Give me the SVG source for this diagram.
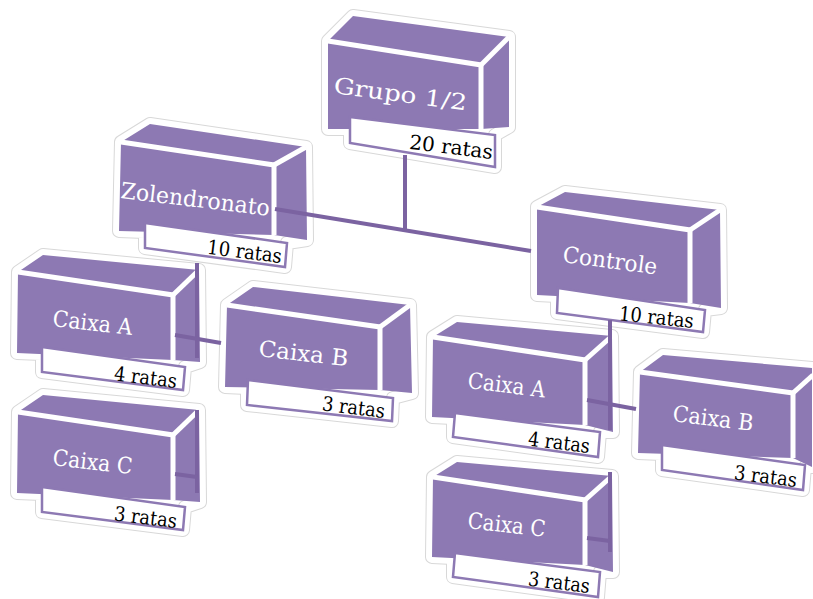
<svg xmlns="http://www.w3.org/2000/svg" width="813" height="599" viewBox="0 0 813 599">
  <style>
    .halo-o { fill: none; stroke: #d8d8d8; stroke-width: 14; stroke-linejoin: round; }
    .halo-i { fill: none; stroke: #ffffff; stroke-width: 12; stroke-linejoin: round; }
    .body { fill: #8d79b3; }
    .edge { fill: none; stroke: #ffffff; stroke-width: 5; stroke-linejoin: miter; }
    .tag { fill: #ffffff; stroke: #8d79b3; stroke-width: 2.5; stroke-linejoin: miter; }
    .title { font-family: "DejaVu Serif", "Liberation Serif", serif; fill: #ffffff; font-size: 22.5px; }
    .count { font-family: "DejaVu Serif", "Liberation Serif", serif; fill: #000000; font-size: 20px; text-anchor: end; }
    .link { fill: none; stroke: #7b63a1; stroke-width: 4; }
  </style>

  <rect width="813" height="599" fill="#ffffff"/>

  <!-- Boxes: halo, body (top + front + side), white edges, count tag, texts -->
  <g id="caixa-a-zol">
    <polygon class="halo-o" points="18,272 43,255 199,270 200,362 185,367 183,390 42,372 42,354 17,353"/>
    <polygon class="halo-i" points="18,272 43,255 199,270 200,362 185,367 183,390 42,372 42,354 17,353"/>
    <polygon class="body" points="18,272 43,255 199,270 200,362 173,360 17,353"/>
    <polyline class="edge" points="18,272 173,295 173,360"/>
    <line class="edge" x1="173" y1="295" x2="199" y2="270"/>
    <polygon class="tag" points="42,347 185,367 183,390 42,372"/>
    <text class="title" x="52" y="326" textLength="80" lengthAdjust="spacingAndGlyphs" transform="rotate(6.5 52 326)">Caixa A</text>
    <text class="count" x="176" y="388" textLength="63" lengthAdjust="spacingAndGlyphs" transform="rotate(7 176 388)">4 ratas</text>
  </g>

  <g id="caixa-b-zol">
    <polygon class="halo-o" points="227,305 253,287 410,305 412,393 393,398 392,421 247,405 247,388 225,387"/>
    <polygon class="halo-i" points="227,305 253,287 410,305 412,393 393,398 392,421 247,405 247,388 225,387"/>
    <polygon class="body" points="227,305 253,287 410,305 412,393 380,390 225,387"/>
    <polyline class="edge" points="227,305 380,327 380,390"/>
    <line class="edge" x1="380" y1="327" x2="410" y2="305"/>
    <polygon class="tag" points="248,380 393,398 392,421 247,405"/>
    <text class="title" x="258" y="356" font-size="24" textLength="90" lengthAdjust="spacingAndGlyphs" transform="rotate(6.5 258 356)">Caixa B</text>
    <text class="count" x="384" y="418" textLength="63" lengthAdjust="spacingAndGlyphs" transform="rotate(7 384 418)">3 ratas</text>
  </g>

  <g id="caixa-c-zol">
    <polygon class="halo-o" points="18,412 43,395 199,410 200,502 185,507 183,530 42,512 42,494 17,493"/>
    <polygon class="halo-i" points="18,412 43,395 199,410 200,502 185,507 183,530 42,512 42,494 17,493"/>
    <polygon class="body" points="18,412 43,395 199,410 200,502 173,500 17,493"/>
    <polyline class="edge" points="18,412 173,435 173,500"/>
    <line class="edge" x1="173" y1="435" x2="199" y2="410"/>
    <polygon class="tag" points="42,487 185,507 183,530 42,512"/>
    <text class="title" x="52" y="465" textLength="80" lengthAdjust="spacingAndGlyphs" transform="rotate(6.5 52 465)">Caixa C</text>
    <text class="count" x="176" y="528" textLength="63" lengthAdjust="spacingAndGlyphs" transform="rotate(7 176 528)">3 ratas</text>
  </g>

  <g id="caixa-a-ctl">
    <polygon class="halo-o" points="433,337 457,322 612,336 613,432 600,432 598,457 453,437 453,418 432,417"/>
    <polygon class="halo-i" points="433,337 457,322 612,336 613,432 600,432 598,457 453,437 453,418 432,417"/>
    <polygon class="body" points="433,337 457,322 612,336 613,432 585,425 432,417"/>
    <polyline class="edge" points="433,337 585,360 585,425"/>
    <line class="edge" x1="585" y1="360" x2="612" y2="336"/>
    <polygon class="tag" points="455,413 600,432 598,457 453,437"/>
    <text class="title" x="467" y="388" textLength="78" lengthAdjust="spacingAndGlyphs" transform="rotate(7 467 388)">Caixa A</text>
    <text class="count" x="589" y="453" textLength="62" lengthAdjust="spacingAndGlyphs" transform="rotate(7 589 453)">4 ratas</text>
  </g>

  <g id="caixa-b-ctl">
    <polygon class="halo-o" points="640,372 663,355 812,368 812,467 805,467 803,490 662,470 662,454 638,453"/>
    <polygon class="halo-i" points="640,372 663,355 812,368 812,467 805,467 803,490 662,470 662,454 638,453"/>
    <polygon class="body" points="640,372 663,355 812,368 812,467 793,458 638,453"/>
    <polyline class="edge" points="640,372 793,393 793,458"/>
    <line class="edge" x1="793" y1="393" x2="813" y2="375"/>
    <polygon class="tag" points="662,445 805,465 803,490 662,470"/>
    <text class="title" x="672" y="421" font-size="23.5" textLength="81" lengthAdjust="spacingAndGlyphs" transform="rotate(7 672 421)">Caixa B</text>
    <text class="count" x="796" y="487" textLength="63" lengthAdjust="spacingAndGlyphs" transform="rotate(7 796 487)">3 ratas</text>
  </g>

  <g id="caixa-c-ctl">
    <polygon class="halo-o" points="433,477 457,462 612,476 613,572 600,572 598,597 453,577 453,558 432,557"/>
    <polygon class="halo-i" points="433,477 457,462 612,476 613,572 600,572 598,597 453,577 453,558 432,557"/>
    <polygon class="body" points="433,477 457,462 612,476 613,572 585,565 432,557"/>
    <polyline class="edge" points="433,477 585,500 585,565"/>
    <line class="edge" x1="585" y1="500" x2="612" y2="476"/>
    <polygon class="tag" points="455,553 600,572 598,597 453,577"/>
    <text class="title" x="467" y="528" textLength="78" lengthAdjust="spacingAndGlyphs" transform="rotate(6.5 467 528)">Caixa C</text>
    <text class="count" x="589" y="593" textLength="62" lengthAdjust="spacingAndGlyphs" transform="rotate(7 589 593)">3 ratas</text>
  </g>

  <g id="zolendronato">
    <polygon class="halo-o" points="121,142 150,124 306,147 307,240 287,243 285,267 145,248 145,232 119,231"/>
    <polygon class="halo-i" points="121,142 150,124 306,147 307,240 287,243 285,267 145,248 145,232 119,231"/>
    <polygon class="body" points="121,142 150,124 306,147 307,240 274,235 119,231"/>
    <polyline class="edge" points="121,142 274,165 274,235"/>
    <line class="edge" x1="274" y1="165" x2="306" y2="147"/>
    <polygon class="tag" points="145,223 287,243 285,267 145,248"/>
    <text class="title" x="120" y="198" font-size="22.5" textLength="150" lengthAdjust="spacingAndGlyphs" transform="rotate(6.8 120 198)">Zolendronato</text>
    <text class="count" x="281" y="263" textLength="75" lengthAdjust="spacingAndGlyphs" transform="rotate(7 281 263)">10 ratas</text>
  </g>

  <g id="controle">
    <polygon class="halo-o" points="537,207 565,192 720,210 721,308 705,310 703,332 557,313 557,296 537,295"/>
    <polygon class="halo-i" points="537,207 565,192 720,210 721,308 705,310 703,332 557,313 557,296 537,295"/>
    <polygon class="body" points="537,207 565,192 720,210 721,308 690,303 537,295"/>
    <polyline class="edge" points="537,207 690,230 690,303"/>
    <line class="edge" x1="690" y1="230" x2="720" y2="210"/>
    <polygon class="tag" points="558,288 705,310 703,332 557,313"/>
    <text class="title" x="562" y="262" font-size="22.5" textLength="95" lengthAdjust="spacingAndGlyphs" transform="rotate(7.5 562 262)">Controle</text>
    <text class="count" x="693" y="328" textLength="75" lengthAdjust="spacingAndGlyphs" transform="rotate(6 693 328)">10 ratas</text>
  </g>

  <g id="grupo">
    <polygon class="halo-o" points="328,41 353,16 509,37 509,127 495,135 495,167 350,143 350,129 328,129"/>
    <polygon class="halo-i" points="328,41 353,16 509,37 509,127 495,135 495,167 350,143 350,129 328,129"/>
    <polygon class="body" points="328,41 353,16 509,37 509,127 481,129 328,129"/>
    <polyline class="edge" points="328,41 481,65 481,129"/>
    <line class="edge" x1="481" y1="65" x2="509" y2="37"/>
    <polygon class="tag" points="350,117 495,135 495,167 350,143"/>
    <text class="title" x="333" y="93" font-size="32" textLength="134" lengthAdjust="spacingAndGlyphs" transform="rotate(7.5 333 93)">Grupo 1/2</text>
    <text class="count" x="492" y="159" font-size="21" textLength="84" lengthAdjust="spacingAndGlyphs" transform="rotate(7 492 159)">20 ratas</text>
  </g>

  <!-- Connectors -->
  <g id="connectors">
    <path class="link" d="M405,155 V230"/>
    <path class="link" d="M275,209 L531,251"/>
    <path class="link" d="M197,263 V358"/>
    <path class="link" d="M175,335 L221,343"/>
    <path class="link" d="M197,410 V493"/>
    <path class="link" d="M175,474 L197,477"/>
    <path class="link" d="M610,320 V430"/>
    <path class="link" d="M587,400 L636,409"/>
    <path class="link" d="M610,472 V552"/>
    <path class="link" d="M587,538 L610,541"/>
  </g>
</svg>
